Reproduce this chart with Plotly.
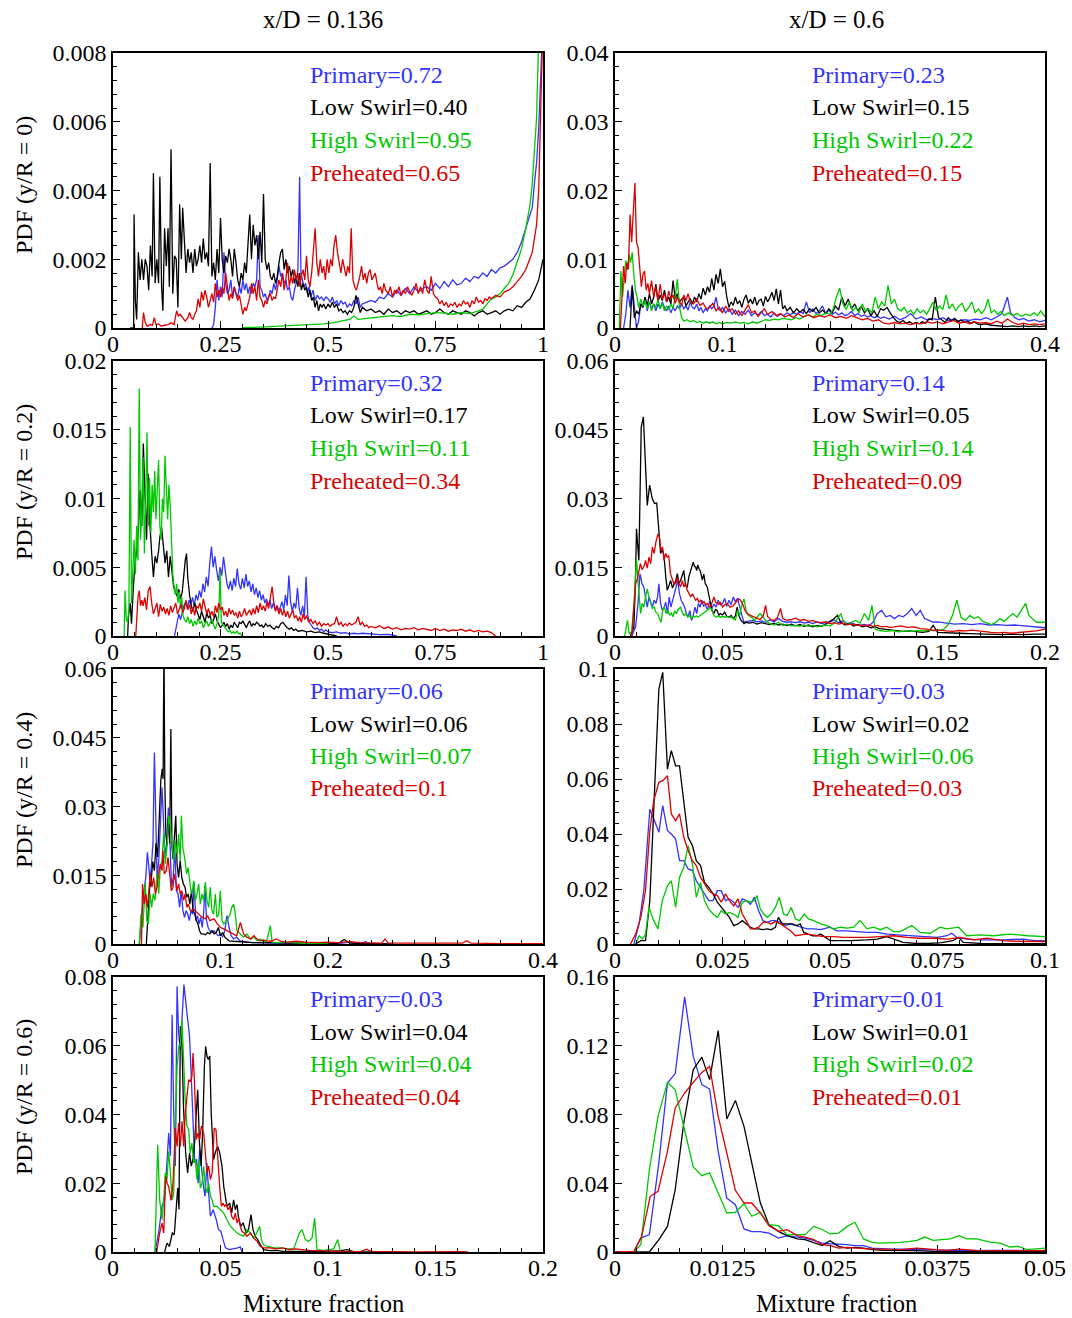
import plotly.graph_objects as go

W, H = 1072, 1318
FONT = "Liberation Serif, Times New Roman, serif"

SERIES = ["Primary", "Low Swirl", "High Swirl", "Preheated"]
COLORS = ["#3333ff", "#000000", "#00c800", "#dc0000"]

# ---------------- Panel A: x/D=0.136, y/R=0  (y in units of 1e-3) ----------------
UNIT_A = 1e-3
a_primary = [(0.230,0),(0.234,0.1),(0.238,0.6),(0.242,1.4),(0.246,0.8),(0.250,1.2),(0.254,0.9),(0.258,2.2),(0.262,1.3),(0.266,1.0),(0.270,1.1),(0.274,1.4),(0.278,0.9),(0.282,1.2),(0.286,1.0),(0.290,0.9),(0.294,1.2),(0.298,1.0),(0.302,1.4),(0.306,1.1),(0.310,1.3),(0.314,1.0),(0.318,1.2),(0.322,1.0),(0.326,1.3),(0.330,1.2),(0.334,1.4),(0.338,2.7),(0.342,1.2),(0.346,1.1),(0.350,0.9),(0.354,1.0),(0.358,0.8),(0.362,0.9),(0.366,1.1),(0.370,1.0),(0.374,1.3),(0.378,1.1),(0.382,1.4),(0.386,1.8),(0.390,1.5),(0.394,1.6),(0.398,1.3),(0.402,1.4),(0.406,1.1),(0.410,1.2),(0.414,0.9),(0.418,0.8),(0.422,1.1),(0.426,1.3),(0.430,1.7),(0.434,4.4),(0.437,1.6),(0.440,1.4),(0.444,1.2),(0.448,1.3),(0.452,1.0),(0.456,1.2),(0.460,0.9),(0.465,1.1),(0.470,0.8),(0.475,0.95),(0.480,0.85),(0.485,0.9),(0.490,0.8),(0.495,0.9),(0.500,0.85),(0.505,0.75),(0.510,0.9),(0.515,0.7),(0.520,0.8),(0.525,0.65),(0.530,0.8),(0.535,0.7),(0.540,0.75),(0.545,0.6),(0.550,0.7),(0.555,0.65),(0.560,0.8),(0.565,0.7),(0.570,0.9),(0.575,0.6),(0.580,0.7),(0.590,0.75),(0.600,0.8),(0.610,0.75),(0.620,0.9),(0.630,0.85),(0.640,1.0),(0.650,0.9),(0.660,1.1),(0.670,0.95),(0.680,1.15),(0.690,1.0),(0.700,1.2),(0.710,1.05),(0.720,1.15),(0.730,1.2),(0.740,1.1),(0.750,1.3),(0.760,1.15),(0.770,1.35),(0.780,1.2),(0.790,1.4),(0.800,1.25),(0.810,1.3),(0.820,1.45),(0.830,1.35),(0.840,1.5),(0.850,1.45),(0.860,1.6),(0.870,1.5),(0.880,1.7),(0.890,1.6),(0.900,1.75),(0.910,1.8),(0.920,1.9),(0.930,2.0),(0.940,2.2),(0.950,2.5),(0.960,2.9),(0.970,3.3),(0.975,3.5),(0.980,4.2),(0.985,4.8),(0.990,5.8),(0.995,7.5),(1.0,9.0)]
a_lowswirl = [(0.040,0),(0.048,0),(0.049,3.3),(0.052,0.8),(0.055,0.25),(0.059,2.2),(0.063,1.4),(0.067,2.0),(0.071,1.4),(0.075,2.0),(0.079,1.8),(0.083,1.1),(0.087,2.4),(0.091,1.5),(0.094,4.5),(0.098,1.3),(0.102,2.0),(0.106,1.3),(0.109,4.4),(0.113,1.2),(0.116,0.5),(0.120,2.9),(0.124,1.8),(0.128,2.9),(0.131,1.2),(0.135,5.2),(0.139,1.0),(0.143,2.1),(0.147,2.0),(0.151,0.6),(0.155,3.6),(0.159,2.0),(0.162,3.5),(0.166,2.3),(0.170,1.6),(0.174,2.3),(0.178,1.9),(0.182,2.2),(0.186,1.6),(0.190,2.3),(0.194,1.8),(0.198,2.0),(0.202,2.4),(0.206,1.9),(0.210,2.6),(0.214,2.0),(0.218,2.2),(0.222,1.8),(0.226,4.8),(0.230,1.5),(0.234,1.9),(0.238,1.4),(0.242,2.3),(0.246,1.6),(0.250,3.2),(0.254,2.0),(0.258,1.6),(0.262,2.1),(0.266,1.9),(0.270,2.3),(0.274,2.0),(0.278,1.5),(0.282,2.3),(0.286,1.9),(0.290,1.4),(0.294,1.2),(0.298,1.6),(0.302,1.4),(0.306,1.9),(0.310,1.6),(0.314,2.4),(0.318,3.3),(0.322,2.0),(0.326,3.0),(0.330,2.4),(0.334,2.7),(0.338,2.0),(0.342,2.8),(0.346,1.9),(0.350,3.9),(0.354,2.0),(0.358,1.7),(0.362,1.9),(0.366,1.5),(0.370,1.4),(0.374,1.6),(0.378,1.3),(0.382,1.5),(0.386,1.9),(0.390,2.2),(0.394,2.3),(0.398,1.7),(0.402,2.0),(0.406,1.6),(0.410,1.8),(0.414,1.5),(0.418,1.7),(0.422,1.3),(0.426,1.5),(0.430,1.2),(0.434,1.6),(0.438,1.1),(0.442,1.3),(0.446,1.1),(0.450,1.2),(0.454,0.9),(0.458,1.1),(0.462,0.8),(0.466,0.9),(0.470,0.6),(0.474,0.8),(0.478,0.5),(0.482,0.7),(0.486,0.6),(0.490,0.7),(0.495,0.55),(0.500,0.7),(0.505,0.6),(0.510,0.75),(0.515,0.6),(0.520,0.7),(0.525,0.5),(0.530,0.55),(0.535,0.45),(0.540,0.5),(0.545,0.4),(0.550,0.5),(0.555,0.45),(0.560,0.6),(0.565,0.95),(0.570,0.7),(0.575,0.45),(0.580,0.6),(0.590,0.5),(0.600,0.55),(0.610,0.45),(0.620,0.5),(0.630,0.4),(0.640,0.55),(0.650,0.45),(0.660,0.5),(0.670,0.4),(0.680,0.5),(0.690,0.45),(0.700,0.5),(0.710,0.4),(0.720,0.45),(0.730,0.5),(0.740,0.4),(0.750,0.45),(0.760,0.55),(0.770,0.45),(0.780,0.4),(0.790,0.5),(0.800,0.45),(0.810,0.4),(0.820,0.5),(0.830,0.45),(0.840,0.35),(0.850,0.45),(0.860,0.5),(0.870,0.4),(0.880,0.45),(0.890,0.5),(0.900,0.4),(0.910,0.5),(0.920,0.55),(0.930,0.5),(0.940,0.65),(0.950,0.6),(0.960,0.75),(0.970,0.85),(0.980,1.1),(0.990,1.4),(0.995,1.7),(1.0,2.0)]
a_highswirl = [(0.30,0),(0.31,0.02),(0.33,0.02),(0.35,0.03),(0.37,0.04),(0.39,0.05),(0.41,0.06),(0.43,0.08),(0.45,0.1),(0.47,0.1),(0.49,0.12),(0.51,0.15),(0.53,0.2),(0.55,0.25),(0.56,0.35),(0.57,0.25),(0.59,0.28),(0.61,0.3),(0.63,0.32),(0.65,0.36),(0.67,0.33),(0.69,0.4),(0.71,0.38),(0.73,0.42),(0.75,0.45),(0.77,0.43),(0.79,0.4),(0.81,0.45),(0.83,0.42),(0.85,0.5),(0.86,0.55),(0.87,0.7),(0.88,0.85),(0.89,0.9),(0.90,1.0),(0.91,1.15),(0.92,1.3),(0.93,1.55),(0.94,1.9),(0.95,2.3),(0.96,2.9),(0.97,3.6),(0.975,4.2),(0.98,5.2),(0.985,6.1),(0.99,8.5),(1.0,9.5)]
a_preheated = [(0.068,0),(0.071,0.45),(0.075,0.15),(0.080,0.05),(0.086,0.1),(0.092,0.08),(0.096,0.3),(0.100,0.1),(0.106,0.12),(0.112,0.05),(0.120,0.08),(0.128,0.1),(0.136,0.15),(0.142,0.1),(0.148,0.5),(0.152,0.35),(0.156,0.4),(0.162,0.3),(0.168,0.2),(0.174,0.3),(0.178,0.45),(0.182,0.3),(0.186,0.25),(0.190,0.4),(0.194,0.5),(0.198,0.85),(0.202,0.6),(0.206,1.05),(0.210,0.8),(0.214,1.1),(0.218,0.9),(0.222,0.6),(0.226,0.8),(0.230,1.0),(0.234,0.75),(0.238,1.3),(0.242,0.9),(0.246,1.1),(0.250,0.9),(0.254,1.2),(0.258,1.0),(0.262,1.6),(0.266,1.2),(0.270,0.8),(0.274,1.0),(0.278,0.85),(0.282,1.2),(0.286,1.0),(0.290,0.8),(0.294,0.95),(0.298,0.6),(0.302,0.4),(0.306,0.6),(0.310,0.5),(0.314,0.7),(0.318,0.9),(0.322,1.3),(0.326,1.0),(0.330,1.2),(0.334,0.8),(0.338,1.4),(0.342,0.9),(0.346,0.8),(0.350,0.6),(0.354,0.8),(0.358,0.7),(0.362,0.9),(0.366,1.0),(0.370,0.8),(0.374,0.9),(0.378,0.85),(0.382,1.1),(0.386,1.4),(0.390,1.2),(0.394,1.6),(0.398,1.1),(0.402,1.4),(0.406,1.9),(0.410,1.2),(0.414,1.5),(0.418,1.3),(0.422,1.7),(0.426,1.4),(0.430,1.6),(0.434,1.2),(0.438,1.5),(0.442,1.7),(0.446,1.4),(0.450,2.1),(0.454,1.4),(0.458,1.2),(0.462,1.6),(0.466,2.3),(0.470,2.9),(0.474,1.9),(0.478,1.5),(0.482,2.0),(0.486,1.6),(0.490,1.8),(0.494,1.4),(0.498,2.0),(0.502,1.6),(0.506,2.0),(0.510,1.8),(0.514,2.4),(0.518,2.7),(0.522,2.2),(0.526,1.9),(0.530,1.6),(0.534,2.0),(0.538,1.7),(0.542,1.5),(0.546,1.8),(0.550,1.6),(0.554,2.9),(0.558,1.4),(0.562,1.2),(0.566,1.1),(0.570,1.3),(0.574,1.5),(0.578,1.8),(0.582,1.4),(0.586,1.6),(0.590,1.3),(0.594,1.6),(0.598,1.7),(0.602,1.4),(0.606,1.5),(0.610,1.6),(0.614,1.3),(0.618,1.1),(0.622,1.2),(0.626,1.0),(0.630,1.3),(0.634,1.1),(0.640,1.0),(0.645,1.2),(0.650,0.9),(0.655,1.1),(0.660,1.0),(0.665,1.2),(0.670,0.95),(0.675,1.1),(0.680,1.0),(0.685,1.2),(0.690,1.05),(0.695,0.95),(0.700,1.1),(0.705,1.3),(0.710,1.0),(0.715,1.2),(0.720,1.0),(0.725,1.4),(0.730,1.1),(0.735,1.0),(0.740,1.5),(0.745,1.0),(0.750,0.9),(0.755,0.85),(0.760,0.7),(0.765,0.8),(0.770,0.65),(0.775,0.75),(0.780,0.6),(0.785,0.7),(0.790,0.65),(0.795,0.75),(0.800,0.6),(0.805,0.7),(0.810,0.65),(0.815,0.8),(0.820,0.7),(0.825,0.75),(0.830,0.6),(0.835,0.8),(0.840,0.7),(0.845,0.9),(0.850,0.75),(0.855,0.8),(0.860,0.7),(0.865,0.85),(0.870,0.8),(0.875,0.9),(0.880,0.85),(0.890,0.95),(0.900,0.9),(0.910,1.05),(0.920,1.1),(0.930,1.2),(0.940,1.35),(0.950,1.5),(0.960,1.7),(0.970,2.0),(0.975,2.2),(0.980,2.6),(0.985,3.0),(0.990,4.0),(0.995,6.0),(1.0,9.0)]
a_labels = ["0.72", "0.40", "0.95", "0.65"]

# ---------------- Panel B: x/D=0.6, y/R=0 ----------------
b_primary = [(0.008,0),(0.010,0.002),(0.012,0.0055),(0.014,0.003),(0.016,0.0063),(0.018,0.0025),(0.020,0.0),(0.022,0.001),(0.024,0.0035),(0.026,0.003),(0.028,0.0045),(0.030,0.0025),(0.032,0.0038),(0.034,0.0028),(0.036,0.0035),(0.038,0.0025),(0.040,0.0035),(0.042,0.0028),(0.044,0.0038),(0.046,0.003),(0.048,0.0025),(0.050,0.0032),(0.052,0.0022),(0.054,0.003),(0.056,0.0025),(0.058,0.0032),(0.060,0.0028),(0.062,0.0035),(0.064,0.0028),(0.066,0.0032),(0.068,0.0026),(0.070,0.0038),(0.072,0.003),(0.074,0.0028),(0.076,0.0035),(0.078,0.0025),(0.080,0.003),(0.082,0.0022),(0.084,0.0028),(0.086,0.0025),(0.088,0.0032),(0.090,0.0028),(0.092,0.0032),(0.094,0.0045),(0.096,0.0028),(0.098,0.0025),(0.100,0.003),(0.103,0.0022),(0.106,0.0028),(0.109,0.002),(0.112,0.0026),(0.115,0.0018),(0.118,0.0024),(0.121,0.002),(0.124,0.0026),(0.127,0.0018),(0.130,0.0022),(0.133,0.0019),(0.136,0.0024),(0.139,0.0018),(0.142,0.002),(0.145,0.0016),(0.148,0.0022),(0.151,0.0017),(0.154,0.002),(0.157,0.0018),(0.160,0.0022),(0.163,0.0019),(0.166,0.0023),(0.169,0.002),(0.172,0.0024),(0.175,0.0021),(0.178,0.0038),(0.181,0.0022),(0.184,0.0028),(0.187,0.0021),(0.190,0.0025),(0.193,0.0032),(0.196,0.0021),(0.199,0.0026),(0.202,0.002),(0.205,0.0023),(0.208,0.0019),(0.211,0.0022),(0.214,0.0018),(0.217,0.002),(0.220,0.0024),(0.223,0.0018),(0.226,0.0021),(0.229,0.0017),(0.232,0.0019),(0.235,0.0016),(0.238,0.0018),(0.241,0.0015),(0.244,0.0017),(0.247,0.0014),(0.250,0.0016),(0.255,0.0013),(0.260,0.0017),(0.265,0.0012),(0.270,0.0015),(0.275,0.0021),(0.280,0.0013),(0.285,0.0016),(0.290,0.0012),(0.295,0.0014),(0.300,0.0012),(0.305,0.0015),(0.310,0.0011),(0.315,0.0013),(0.320,0.001),(0.325,0.0012),(0.330,0.0011),(0.335,0.0013),(0.340,0.0012),(0.345,0.0015),(0.350,0.0012),(0.355,0.0016),(0.360,0.0021),(0.365,0.0045),(0.368,0.0022),(0.372,0.0015),(0.376,0.0012),(0.380,0.0014),(0.385,0.001),(0.390,0.0012),(0.395,0.0009),(0.400,0.0011)]
b_lowswirl = [(0.014,0),(0.016,0.006),(0.018,0.0015),(0.020,0.0025),(0.022,0.002),(0.024,0.0035),(0.026,0.003),(0.028,0.0045),(0.030,0.0032),(0.032,0.005),(0.034,0.0035),(0.036,0.0045),(0.038,0.0064),(0.040,0.0038),(0.042,0.0048),(0.044,0.004),(0.046,0.0055),(0.048,0.0038),(0.050,0.0045),(0.052,0.0035),(0.054,0.0069),(0.056,0.0042),(0.058,0.005),(0.060,0.0038),(0.062,0.0042),(0.064,0.0045),(0.066,0.0032),(0.068,0.0038),(0.070,0.0043),(0.072,0.0035),(0.074,0.0045),(0.076,0.0038),(0.078,0.005),(0.080,0.0042),(0.082,0.0058),(0.084,0.0048),(0.086,0.006),(0.088,0.0052),(0.090,0.0072),(0.092,0.0055),(0.094,0.0078),(0.096,0.0065),(0.098,0.0086),(0.100,0.006),(0.102,0.0068),(0.104,0.0045),(0.106,0.003),(0.108,0.0038),(0.110,0.0033),(0.112,0.0045),(0.114,0.0035),(0.116,0.004),(0.118,0.003),(0.120,0.0042),(0.122,0.0048),(0.124,0.0036),(0.126,0.0042),(0.128,0.0035),(0.130,0.0045),(0.132,0.0033),(0.134,0.004),(0.136,0.0042),(0.138,0.0032),(0.140,0.0046),(0.142,0.0038),(0.144,0.0044),(0.146,0.0052),(0.148,0.004),(0.150,0.0057),(0.152,0.0035),(0.154,0.0055),(0.156,0.0028),(0.158,0.0032),(0.160,0.0025),(0.163,0.003),(0.166,0.0022),(0.169,0.0028),(0.172,0.0023),(0.175,0.0027),(0.178,0.0021),(0.181,0.0028),(0.184,0.0024),(0.187,0.003),(0.190,0.0022),(0.193,0.0026),(0.196,0.0021),(0.199,0.0028),(0.202,0.0022),(0.205,0.0032),(0.208,0.0026),(0.211,0.0045),(0.214,0.0032),(0.217,0.0042),(0.220,0.0028),(0.223,0.0035),(0.226,0.0025),(0.229,0.0032),(0.232,0.0022),(0.235,0.0028),(0.238,0.0018),(0.241,0.0025),(0.244,0.0017),(0.247,0.0028),(0.250,0.0026),(0.253,0.003),(0.256,0.0022),(0.259,0.0015),(0.262,0.001),(0.265,0.0008),(0.268,0.0011),(0.271,0.0007),(0.274,0.0009),(0.277,0.0006),(0.280,0.0008),(0.283,0.0006),(0.286,0.0009),(0.289,0.0007),(0.292,0.0013),(0.295,0.0012),(0.298,0.0045),(0.301,0.0015),(0.304,0.0012),(0.307,0.0008),(0.310,0.0015),(0.313,0.001),(0.316,0.0014),(0.319,0.0009),(0.322,0.0012),(0.325,0.0008),(0.328,0.001),(0.331,0.0007),(0.334,0.0009),(0.337,0.0006),(0.340,0.0005),(0.345,0.0006),(0.350,0.0004),(0.355,0.0003),(0.360,0.0003),(0.365,0.0002),(0.370,0.0003),(0.375,0.0002),(0.380,0.0003),(0.385,0.0002),(0.390,0.0003),(0.395,0.0002),(0.400,0.0003)]
b_highswirl = [(0.004,0),(0.0055,0.0083),(0.007,0.0045),(0.0085,0.0075),(0.010,0.0098),(0.0115,0.0085),(0.013,0.0108),(0.0145,0.0095),(0.016,0.011),(0.0175,0.0078),(0.019,0.0055),(0.0205,0.0045),(0.022,0.003),(0.024,0.0042),(0.026,0.0032),(0.028,0.004),(0.030,0.0028),(0.032,0.0038),(0.034,0.0025),(0.036,0.0035),(0.038,0.003),(0.040,0.0042),(0.042,0.0028),(0.044,0.0036),(0.046,0.0025),(0.048,0.0032),(0.050,0.0027),(0.052,0.0035),(0.054,0.0028),(0.056,0.0045),(0.058,0.0071),(0.060,0.003),(0.062,0.0015),(0.064,0.001),(0.067,0.0012),(0.070,0.0009),(0.073,0.0011),(0.076,0.0008),(0.079,0.001),(0.082,0.0007),(0.085,0.0009),(0.088,0.0007),(0.091,0.0009),(0.094,0.0006),(0.097,0.0008),(0.100,0.0006),(0.104,0.0008),(0.108,0.0007),(0.112,0.0009),(0.116,0.0007),(0.120,0.0008),(0.124,0.0006),(0.128,0.0009),(0.132,0.0007),(0.136,0.001),(0.140,0.0012),(0.144,0.0011),(0.148,0.0013),(0.152,0.0012),(0.156,0.0014),(0.160,0.0013),(0.164,0.0012),(0.168,0.0015),(0.172,0.0013),(0.176,0.0017),(0.180,0.0019),(0.184,0.0016),(0.188,0.002),(0.192,0.0018),(0.196,0.0022),(0.200,0.002),(0.203,0.0028),(0.206,0.0045),(0.209,0.0058),(0.212,0.0035),(0.215,0.0027),(0.218,0.0038),(0.221,0.0025),(0.224,0.003),(0.227,0.0022),(0.230,0.0035),(0.233,0.0025),(0.236,0.0028),(0.239,0.0022),(0.242,0.0045),(0.245,0.0028),(0.248,0.0038),(0.251,0.0032),(0.254,0.0062),(0.257,0.0035),(0.260,0.0042),(0.263,0.0028),(0.266,0.0025),(0.269,0.003),(0.272,0.0022),(0.275,0.0026),(0.278,0.002),(0.281,0.0028),(0.284,0.0022),(0.287,0.0026),(0.290,0.002),(0.293,0.0028),(0.296,0.0038),(0.299,0.0025),(0.302,0.0032),(0.305,0.0027),(0.308,0.0048),(0.311,0.0028),(0.314,0.0035),(0.317,0.0025),(0.320,0.0032),(0.323,0.0036),(0.326,0.0024),(0.329,0.003),(0.332,0.0038),(0.335,0.0022),(0.338,0.0028),(0.341,0.0021),(0.344,0.0027),(0.347,0.0042),(0.350,0.0022),(0.353,0.0026),(0.356,0.002),(0.359,0.0024),(0.362,0.0018),(0.366,0.0022),(0.370,0.0018),(0.374,0.0021),(0.378,0.0017),(0.382,0.002),(0.386,0.0018),(0.390,0.0022),(0.393,0.0018),(0.396,0.0025),(0.400,0.0016)]
b_preheated = [(0.005,0),(0.0065,0.004),(0.008,0.009),(0.0095,0.0065),(0.011,0.0095),(0.0125,0.0085),(0.014,0.0165),(0.0155,0.0125),(0.017,0.0168),(0.0185,0.0211),(0.020,0.0125),(0.0215,0.0117),(0.023,0.0088),(0.0245,0.006),(0.026,0.0078),(0.0275,0.0083),(0.029,0.0055),(0.0305,0.0065),(0.032,0.005),(0.034,0.0069),(0.036,0.0045),(0.038,0.006),(0.040,0.004),(0.042,0.0064),(0.044,0.0042),(0.046,0.005),(0.048,0.0038),(0.050,0.0054),(0.052,0.0042),(0.054,0.0048),(0.056,0.0036),(0.058,0.0045),(0.060,0.0038),(0.062,0.0033),(0.064,0.0048),(0.066,0.004),(0.068,0.005),(0.070,0.0038),(0.073,0.0035),(0.076,0.0042),(0.079,0.0033),(0.082,0.0036),(0.085,0.0028),(0.088,0.003),(0.091,0.0036),(0.094,0.0025),(0.097,0.003),(0.100,0.0022),(0.103,0.0032),(0.106,0.0024),(0.109,0.0028),(0.112,0.002),(0.115,0.0025),(0.118,0.0018),(0.121,0.0026),(0.124,0.0034),(0.127,0.0022),(0.130,0.0025),(0.133,0.0017),(0.136,0.0022),(0.139,0.0028),(0.142,0.002),(0.146,0.0024),(0.150,0.0018),(0.154,0.0021),(0.158,0.0016),(0.162,0.0019),(0.166,0.0015),(0.170,0.0021),(0.175,0.0016),(0.180,0.0019),(0.185,0.0015),(0.190,0.0018),(0.195,0.0016),(0.200,0.0019),(0.205,0.0015),(0.210,0.0017),(0.215,0.0014),(0.220,0.0018),(0.225,0.0015),(0.230,0.0012),(0.235,0.0014),(0.240,0.001),(0.245,0.0012),(0.250,0.0007),(0.255,0.0006),(0.260,0.0008),(0.265,0.0006),(0.270,0.0007),(0.275,0.0005),(0.280,0.0007),(0.285,0.0006),(0.290,0.0009),(0.295,0.0007),(0.300,0.0009),(0.305,0.0006),(0.310,0.0008),(0.315,0.0011),(0.320,0.0007),(0.325,0.0009),(0.330,0.0006),(0.335,0.0009),(0.340,0.0007),(0.345,0.0008),(0.350,0.0006),(0.355,0.001),(0.360,0.0007),(0.365,0.0013),(0.370,0.0008),(0.375,0.0005),(0.380,0.0007),(0.385,0.0005),(0.390,0.0006),(0.395,0.0005),(0.400,0.0006)]
b_labels = ["0.23", "0.15", "0.22", "0.15"]

# ---------------- Panel C: x/D=0.136, y/R=0.2  (y in units of 1e-3) ----------------
UNIT_C = 1e-3
c_primary = [(0.143,0),(0.146,0.5),(0.150,1.0),(0.153,1.6),(0.157,1.2),(0.161,1.8),(0.165,2.2),(0.169,2.5),(0.173,2.0),(0.177,2.6),(0.181,2.3),(0.185,2.8),(0.189,2.2),(0.193,3.0),(0.197,2.6),(0.201,3.3),(0.205,2.8),(0.209,3.8),(0.213,3.2),(0.217,4.3),(0.221,3.6),(0.225,5.3),(0.229,6.5),(0.233,5.0),(0.237,5.8),(0.241,4.8),(0.245,4.0),(0.249,5.0),(0.253,4.4),(0.257,5.75),(0.261,4.8),(0.265,3.8),(0.269,3.4),(0.273,4.0),(0.277,3.3),(0.281,4.2),(0.285,3.6),(0.289,4.9),(0.293,3.8),(0.297,3.4),(0.301,4.2),(0.305,3.5),(0.309,4.5),(0.313,3.6),(0.317,4.0),(0.321,3.2),(0.325,3.8),(0.329,3.0),(0.333,3.5),(0.337,2.8),(0.341,3.3),(0.345,2.6),(0.349,3.0),(0.353,2.4),(0.357,2.7),(0.361,2.2),(0.365,2.6),(0.369,2.0),(0.373,2.4),(0.377,1.9),(0.381,2.2),(0.385,1.8),(0.389,2.1),(0.393,2.5),(0.397,1.9),(0.401,3.0),(0.405,2.2),(0.409,4.4),(0.413,2.5),(0.417,1.8),(0.421,2.4),(0.425,2.0),(0.429,3.5),(0.433,2.0),(0.437,1.5),(0.441,2.2),(0.445,1.4),(0.449,4.3),(0.453,1.5),(0.457,1.0),(0.461,0.8),(0.465,0.6),(0.470,0.5),(0.475,0.6),(0.480,0.4),(0.485,0.5),(0.490,0.3),(0.495,0.45),(0.500,0.3),(0.510,0.25),(0.520,0.3),(0.530,0.2),(0.540,0.25),(0.550,0.15),(0.560,0.2),(0.570,0.15),(0.580,0.2),(0.600,0.15),(0.620,0.1),(0.640,0.12),(0.660,0.0)]
c_lowswirl = [(0.034,0),(0.036,1.4),(0.040,2.4),(0.043,0.9),(0.047,3.3),(0.051,5.3),(0.055,6.2),(0.059,7.7),(0.063,10.6),(0.067,8.0),(0.0705,14.0),(0.074,11.1),(0.078,7.0),(0.082,11.8),(0.086,8.0),(0.090,6.0),(0.094,4.3),(0.098,5.8),(0.102,5.3),(0.106,6.2),(0.109,7.2),(0.113,7.9),(0.117,6.7),(0.121,5.3),(0.125,6.2),(0.129,4.3),(0.133,5.8),(0.137,4.8),(0.141,3.6),(0.145,3.2),(0.149,2.9),(0.153,3.4),(0.157,2.7),(0.161,3.2),(0.165,4.6),(0.168,5.5),(0.171,6.0),(0.174,4.2),(0.178,3.0),(0.182,2.2),(0.186,1.8),(0.190,2.4),(0.194,1.9),(0.198,1.6),(0.202,1.2),(0.206,1.8),(0.210,1.4),(0.214,1.0),(0.218,1.7),(0.222,1.3),(0.226,1.5),(0.230,0.9),(0.234,1.2),(0.238,1.6),(0.242,1.1),(0.246,0.8),(0.250,0.6),(0.254,0.8),(0.258,1.0),(0.262,0.7),(0.266,0.9),(0.270,0.5),(0.274,0.8),(0.278,0.6),(0.282,1.0),(0.286,0.8),(0.290,0.6),(0.294,1.0),(0.298,0.9),(0.302,1.1),(0.306,0.8),(0.310,0.6),(0.314,0.9),(0.318,1.1),(0.322,0.7),(0.326,0.9),(0.330,0.8),(0.334,1.0),(0.338,0.9),(0.342,0.7),(0.346,0.8),(0.350,0.6),(0.355,0.9),(0.360,0.7),(0.365,0.8),(0.370,0.6),(0.375,0.5),(0.380,0.7),(0.385,0.6),(0.390,0.9),(0.395,1.0),(0.400,0.8),(0.405,0.6),(0.410,0.5),(0.415,0.6),(0.420,0.4),(0.425,0.5),(0.430,0.35),(0.440,0.4),(0.450,0.3),(0.460,0.35),(0.470,0.25),(0.480,0.3),(0.490,0.2),(0.500,0.15),(0.510,0.1),(0.520,0.0)]
c_highswirl = [(0.026,0),(0.028,3.3),(0.031,1.2),(0.034,1.0),(0.037,2.0),(0.040,15.2),(0.043,2.4),(0.046,5.0),(0.049,7.0),(0.052,4.5),(0.055,8.0),(0.058,5.5),(0.061,18.0),(0.064,7.0),(0.067,9.0),(0.070,13.0),(0.073,6.0),(0.076,9.5),(0.079,14.8),(0.082,8.0),(0.085,11.5),(0.088,7.5),(0.091,11.0),(0.094,9.0),(0.097,12.0),(0.100,8.5),(0.103,10.6),(0.106,12.8),(0.109,8.0),(0.112,7.0),(0.115,10.0),(0.118,9.0),(0.121,13.1),(0.124,10.5),(0.127,8.5),(0.130,11.0),(0.133,9.5),(0.136,7.0),(0.139,4.5),(0.142,3.6),(0.145,3.0),(0.148,3.8),(0.151,2.4),(0.154,3.2),(0.157,2.0),(0.160,2.8),(0.163,1.5),(0.166,1.2),(0.170,1.0),(0.174,1.4),(0.178,0.9),(0.182,1.2),(0.186,0.7),(0.190,1.1),(0.194,0.8),(0.198,1.3),(0.202,0.9),(0.206,1.1),(0.210,0.6),(0.214,0.9),(0.218,1.1),(0.222,0.7),(0.226,1.0),(0.230,1.2),(0.234,0.8),(0.238,0.5),(0.242,0.9),(0.246,1.6),(0.249,4.7),(0.252,1.0),(0.256,0.8),(0.260,0.6),(0.264,0.5),(0.268,0.3),(0.272,0.4),(0.276,0.2),(0.280,0.3),(0.284,0.2),(0.288,0.35),(0.292,0.15),(0.296,0.2),(0.300,0.0)]
c_preheated = [(0.053,0),(0.055,1.2),(0.058,2.8),(0.061,3.3),(0.064,2.2),(0.067,2.6),(0.070,2.2),(0.074,2.8),(0.078,1.9),(0.082,3.3),(0.086,3.6),(0.090,2.4),(0.094,1.6),(0.098,2.0),(0.102,2.4),(0.106,1.4),(0.110,2.3),(0.114,1.8),(0.118,2.1),(0.122,1.6),(0.126,2.0),(0.130,1.5),(0.134,2.2),(0.138,1.7),(0.142,2.0),(0.146,2.4),(0.150,1.6),(0.154,1.9),(0.158,2.3),(0.162,1.7),(0.166,2.0),(0.170,2.6),(0.174,1.9),(0.178,2.3),(0.182,1.6),(0.186,2.1),(0.190,1.5),(0.194,2.2),(0.198,2.0),(0.202,2.4),(0.206,1.8),(0.210,2.7),(0.214,2.2),(0.218,1.6),(0.222,2.0),(0.226,1.5),(0.230,1.8),(0.234,1.4),(0.238,2.2),(0.242,1.7),(0.246,2.4),(0.250,1.9),(0.254,2.1),(0.258,1.5),(0.262,1.8),(0.266,1.4),(0.270,2.0),(0.274,1.6),(0.278,1.9),(0.282,1.5),(0.286,1.7),(0.290,1.3),(0.294,1.8),(0.298,1.4),(0.302,1.6),(0.306,2.0),(0.310,1.5),(0.314,1.7),(0.318,1.9),(0.322,1.5),(0.326,2.0),(0.330,1.6),(0.334,2.2),(0.338,1.7),(0.342,2.4),(0.346,1.9),(0.350,2.2),(0.354,1.8),(0.358,2.5),(0.362,2.0),(0.366,3.0),(0.370,3.6),(0.374,2.4),(0.378,1.8),(0.382,2.2),(0.386,1.6),(0.390,2.0),(0.394,1.5),(0.398,1.9),(0.402,1.4),(0.406,1.8),(0.410,1.3),(0.414,1.6),(0.418,1.9),(0.422,1.3),(0.426,1.5),(0.430,1.1),(0.434,1.4),(0.438,1.0),(0.442,1.6),(0.446,1.2),(0.450,1.5),(0.455,1.0),(0.460,1.2),(0.465,0.9),(0.470,1.1),(0.475,0.8),(0.480,1.0),(0.485,0.7),(0.490,0.9),(0.495,0.8),(0.500,0.9),(0.505,0.7),(0.510,0.85),(0.515,0.9),(0.520,1.4),(0.525,0.8),(0.530,1.0),(0.535,0.7),(0.540,0.9),(0.545,0.75),(0.550,0.95),(0.555,0.8),(0.560,0.9),(0.565,1.0),(0.570,1.4),(0.575,0.8),(0.580,1.0),(0.585,0.7),(0.590,0.8),(0.595,0.6),(0.600,0.7),(0.610,0.6),(0.620,0.75),(0.630,0.55),(0.640,0.65),(0.650,0.5),(0.660,0.6),(0.670,0.45),(0.680,0.55),(0.690,0.5),(0.700,0.6),(0.710,0.45),(0.720,0.55),(0.730,0.5),(0.740,0.4),(0.750,0.55),(0.760,0.4),(0.770,0.5),(0.780,0.35),(0.790,0.45),(0.800,0.4),(0.810,0.5),(0.820,0.35),(0.830,0.45),(0.840,0.3),(0.850,0.4),(0.860,0.3),(0.870,0.35),(0.880,0.25),(0.890,0.0)]
c_labels = ["0.32", "0.17", "0.11", "0.34"]

# ---------------- Panel D: x/D=0.6, y/R=0.2 ----------------
d_primary = [(0.0078,0),(0.0096,0.002),(0.0107,0.0071),(0.0116,0.0136),(0.0126,0.0114),(0.0134,0.0107),(0.0142,0.0085),(0.0150,0.0063),(0.0158,0.0085),(0.0166,0.0071),(0.0174,0.0063),(0.0182,0.0078),(0.0190,0.0071),(0.0198,0.0085),(0.0204,0.0114),(0.0212,0.0071),(0.0220,0.0056),(0.0228,0.0062),(0.0236,0.0074),(0.0244,0.0049),(0.0252,0.0085),(0.0260,0.0063),(0.0268,0.0078),(0.0276,0.0092),(0.0284,0.0107),(0.0292,0.0121),(0.0300,0.0092),(0.0308,0.0078),(0.0316,0.0071),(0.0324,0.0063),(0.0332,0.0049),(0.0340,0.0041),(0.0348,0.0056),(0.0356,0.0034),(0.0364,0.0045),(0.0372,0.0063),(0.0380,0.0049),(0.0388,0.0071),(0.0396,0.0063),(0.0404,0.0078),(0.0412,0.0065),(0.0420,0.0068),(0.0430,0.0058),(0.0440,0.0075),(0.0450,0.006),(0.0460,0.007),(0.0470,0.0063),(0.0480,0.0078),(0.0490,0.0068),(0.0500,0.0071),(0.0510,0.0082),(0.0520,0.0065),(0.0530,0.0078),(0.0540,0.0068),(0.0550,0.0085),(0.0560,0.0075),(0.0570,0.0082),(0.0580,0.006),(0.0590,0.0045),(0.0600,0.003),(0.0620,0.0032),(0.0640,0.0034),(0.0660,0.0031),(0.0680,0.0033),(0.0700,0.003),(0.0720,0.0035),(0.0740,0.0031),(0.0760,0.0038),(0.0780,0.0032),(0.0800,0.003),(0.0820,0.0031),(0.0840,0.0029),(0.0860,0.0031),(0.0880,0.0028),(0.0900,0.003),(0.0920,0.0027),(0.0940,0.0031),(0.0960,0.0027),(0.0980,0.0029),(0.1000,0.0031),(0.1020,0.0035),(0.1040,0.0029),(0.1060,0.0033),(0.1080,0.0027),(0.1100,0.0029),(0.1120,0.0025),(0.1140,0.0023),(0.1160,0.0025),(0.1180,0.0022),(0.1200,0.003),(0.1220,0.0049),(0.1240,0.0056),(0.1260,0.0042),(0.1280,0.0045),(0.1300,0.0038),(0.1320,0.0045),(0.1340,0.0042),(0.1360,0.0049),(0.1380,0.006),(0.1400,0.0045),(0.1420,0.0056),(0.1440,0.0038),(0.1460,0.0034),(0.1480,0.003),(0.1500,0.0031),(0.1540,0.0028),(0.1580,0.0026),(0.1620,0.0027),(0.1660,0.0025),(0.1700,0.0027),(0.1740,0.0024),(0.1780,0.0025),(0.1820,0.0023),(0.1860,0.0024),(0.1900,0.0022),(0.1940,0.0021),(0.2000,0.0018)]
d_lowswirl = [(0.0072,0),(0.0088,0.002),(0.0095,0.012),(0.0100,0.0234),(0.0111,0.0165),(0.0122,0.0456),(0.0132,0.0478),(0.0142,0.0376),(0.0150,0.0285),(0.0161,0.0329),(0.0173,0.030),(0.0184,0.0289),(0.0194,0.029),(0.0204,0.023),(0.0212,0.018),(0.0220,0.019),(0.0228,0.0175),(0.0236,0.013),(0.0243,0.010),(0.0251,0.011),(0.0259,0.0121),(0.0267,0.0105),(0.0274,0.0114),(0.0282,0.012),(0.0290,0.0136),(0.0297,0.0115),(0.0305,0.0121),(0.0313,0.0135),(0.0320,0.0143),(0.0328,0.011),(0.0336,0.0106),(0.0344,0.013),(0.0351,0.0143),(0.0358,0.015),(0.0364,0.0161),(0.0370,0.0152),(0.0375,0.0150),(0.0380,0.0143),(0.0385,0.0155),(0.0390,0.0148),(0.0398,0.014),(0.0406,0.0122),(0.0413,0.0135),(0.0420,0.0114),(0.0429,0.0107),(0.0436,0.009),(0.0444,0.007),(0.0452,0.0055),(0.0460,0.0049),(0.0468,0.0058),(0.0475,0.0056),(0.0483,0.0045),(0.0490,0.0049),(0.0500,0.0046),(0.0510,0.0052),(0.0520,0.0043),(0.0530,0.0041),(0.0540,0.0045),(0.0550,0.0038),(0.0560,0.0044),(0.0568,0.0063),(0.0576,0.0045),(0.0585,0.0035),(0.0600,0.0027),(0.0610,0.003),(0.0625,0.0028),(0.0640,0.003),(0.0660,0.0026),(0.0680,0.0029),(0.0700,0.0027),(0.0720,0.0025),(0.0740,0.0028),(0.0760,0.0024),(0.0780,0.0026),(0.0800,0.0023),(0.0820,0.0026),(0.0840,0.0022),(0.0860,0.0025),(0.0880,0.0021),(0.0900,0.0024),(0.0920,0.002),(0.0940,0.0023),(0.0960,0.0021),(0.0980,0.0026),(0.1000,0.0032),(0.1020,0.0038),(0.1035,0.0045),(0.1050,0.003),(0.1070,0.0024),(0.1090,0.0028),(0.1110,0.0022),(0.1130,0.0025),(0.1150,0.002),(0.1170,0.0022),(0.1190,0.0018),(0.1210,0.002),(0.1230,0.0016),(0.1250,0.0015),(0.1280,0.0012),(0.1310,0.0011),(0.1340,0.001),(0.1370,0.0011),(0.1400,0.0009),(0.1430,0.0008),(0.1460,0.001),(0.1480,0.0023),(0.1500,0.0008),(0.1530,0.0007),(0.1560,0.0006),(0.1600,0.0006),(0.1650,0.0005),(0.1700,0.0004),(0.1750,0.0004),(0.1800,0.0003),(0.1850,0.0004),(0.1900,0.0003),(0.1950,0.0004),(0.2000,0.0004)]
d_highswirl = [(0.0045,0),(0.0050,0.0015),(0.0058,0.0034),(0.0066,0.0005),(0.0078,0.001),(0.0088,0.007),(0.0096,0.0125),(0.0100,0.0169),(0.0108,0.0114),(0.0115,0.0075),(0.0119,0.0049),(0.0126,0.0071),(0.0134,0.0063),(0.0142,0.0085),(0.0150,0.0103),(0.0158,0.0085),(0.0166,0.0071),(0.0174,0.006),(0.0182,0.0063),(0.0190,0.0052),(0.0198,0.0049),(0.0206,0.0038),(0.0214,0.003),(0.0222,0.0056),(0.0230,0.0063),(0.0238,0.0049),(0.0246,0.0056),(0.0254,0.0045),(0.0262,0.005),(0.0270,0.0042),(0.0278,0.0055),(0.0286,0.0048),(0.0294,0.0058),(0.0305,0.0063),(0.0314,0.005),(0.0322,0.0045),(0.0330,0.0049),(0.0338,0.0041),(0.0346,0.0045),(0.0354,0.0038),(0.0362,0.0043),(0.0370,0.0041),(0.0378,0.0044),(0.0386,0.0041),(0.0394,0.0044),(0.0402,0.0045),(0.0410,0.0049),(0.0418,0.0052),(0.0426,0.0056),(0.0434,0.0058),(0.0444,0.0063),(0.0452,0.0052),(0.0460,0.0045),(0.0470,0.0041),(0.0480,0.0044),(0.0490,0.0041),(0.0500,0.0043),(0.0510,0.0041),(0.0520,0.0042),(0.0530,0.004),(0.0540,0.0041),(0.0550,0.0039),(0.0560,0.0034),(0.0570,0.0056),(0.0580,0.0045),(0.0590,0.0068),(0.0600,0.0081),(0.0610,0.0055),(0.0620,0.0045),(0.0635,0.0041),(0.0650,0.0034),(0.0660,0.0041),(0.0675,0.0049),(0.0690,0.0041),(0.0700,0.0034),(0.0720,0.0027),(0.0740,0.0024),(0.0760,0.003),(0.0780,0.0023),(0.0800,0.0026),(0.0820,0.0022),(0.0840,0.0023),(0.0860,0.0021),(0.0880,0.0024),(0.0900,0.0021),(0.0920,0.0023),(0.0940,0.002),(0.0960,0.0022),(0.0980,0.0024),(0.1000,0.0022),(0.1020,0.0028),(0.1040,0.0041),(0.1050,0.0049),(0.1060,0.0035),(0.1080,0.0024),(0.1100,0.003),(0.1120,0.0034),(0.1140,0.0028),(0.1160,0.0049),(0.1180,0.0034),(0.1195,0.0067),(0.1210,0.0015),(0.1230,0.0012),(0.1260,0.001),(0.1290,0.0012),(0.1320,0.0009),(0.1350,0.0011),(0.1380,0.001),(0.1410,0.0012),(0.1440,0.0011),(0.1470,0.0013),(0.1500,0.0011),(0.1530,0.0015),(0.1550,0.0025),(0.1570,0.0045),(0.1590,0.0078),(0.1610,0.004),(0.1630,0.0034),(0.1650,0.0045),(0.1670,0.0038),(0.1690,0.0042),(0.1710,0.0032),(0.1730,0.0028),(0.1750,0.0025),(0.1770,0.0029),(0.1790,0.0038),(0.1810,0.0032),(0.1830,0.0041),(0.1850,0.0049),(0.1870,0.0041),(0.1890,0.0055),(0.1910,0.0071),(0.1925,0.0045),(0.1940,0.0038),(0.1960,0.003),(0.1980,0.003),(0.2000,0.003)]
d_preheated = [(0.0078,0),(0.0088,0.006),(0.0096,0.0114),(0.0104,0.0125),(0.0111,0.0143),(0.0118,0.0158),(0.0126,0.0145),(0.0135,0.0152),(0.0142,0.0165),(0.0150,0.0148),(0.0158,0.0172),(0.0166,0.0158),(0.0174,0.0194),(0.0182,0.018),(0.0190,0.0205),(0.0200,0.0223),(0.0207,0.0215),(0.0214,0.0186),(0.0221,0.0194),(0.0228,0.0165),(0.0236,0.018),(0.0243,0.0172),(0.0250,0.0175),(0.0258,0.0136),(0.0266,0.0125),(0.0274,0.0114),(0.0282,0.0114),(0.0290,0.0128),(0.0298,0.0114),(0.0305,0.0107),(0.0313,0.0121),(0.0320,0.0107),(0.0328,0.0115),(0.0336,0.01),(0.0344,0.0093),(0.0352,0.0085),(0.0360,0.0092),(0.0367,0.0085),(0.0375,0.0078),(0.0383,0.0082),(0.0390,0.0074),(0.0398,0.0078),(0.0406,0.0071),(0.0414,0.0075),(0.0422,0.0068),(0.0430,0.0071),(0.0437,0.0065),(0.0444,0.0063),(0.0452,0.0075),(0.0460,0.0085),(0.0468,0.0074),(0.0475,0.0071),(0.0483,0.0069),(0.0490,0.0074),(0.0500,0.0063),(0.0510,0.0068),(0.0522,0.0071),(0.0535,0.0063),(0.0550,0.0066),(0.0560,0.0072),(0.0568,0.0078),(0.0576,0.0081),(0.0584,0.0078),(0.0595,0.0068),(0.0605,0.0055),(0.0615,0.0049),(0.0630,0.0045),(0.0646,0.0041),(0.0660,0.0039),(0.0675,0.0036),(0.0690,0.0045),(0.0700,0.0067),(0.0710,0.0042),(0.0725,0.0036),(0.0740,0.0034),(0.0755,0.004),(0.0770,0.006),(0.0780,0.0038),(0.0800,0.0034),(0.0820,0.0036),(0.0840,0.0039),(0.0860,0.0034),(0.0880,0.0036),(0.0900,0.0032),(0.0920,0.0034),(0.0940,0.003),(0.0960,0.0029),(0.0980,0.0031),(0.1000,0.0027),(0.1020,0.0029),(0.1040,0.0026),(0.1060,0.0028),(0.1080,0.0025),(0.1100,0.0026),(0.1120,0.0023),(0.1140,0.0024),(0.1160,0.0022),(0.1180,0.0024),(0.1200,0.0021),(0.1220,0.0023),(0.1240,0.002),(0.1260,0.0021),(0.1280,0.0019),(0.1300,0.002),(0.1330,0.0022),(0.1360,0.0019),(0.1390,0.002),(0.1420,0.0016),(0.1450,0.0015),(0.1480,0.0012),(0.1510,0.0013),(0.1540,0.0011),(0.1570,0.001),(0.1600,0.0012),(0.1630,0.0011),(0.1660,0.0013),(0.1690,0.0011),(0.1720,0.0009),(0.1750,0.0008),(0.1780,0.0007),(0.1810,0.0008),(0.1840,0.0006),(0.1870,0.0007),(0.1900,0.0008),(0.1930,0.001),(0.1960,0.0011),(0.2000,0.0015)]
d_labels = ["0.14", "0.05", "0.14", "0.09"]

# ---------------- Panel E: x/D=0.136, y/R=0.4 ----------------
e_primary = [(0.0245,0),(0.0265,0.0065),(0.0285,0.011),(0.0305,0.0145),(0.0320,0.02),(0.0332,0.017),(0.0345,0.0138),(0.0360,0.018),(0.0372,0.022),(0.0385,0.0418),(0.0398,0.0269),(0.0410,0.0145),(0.0425,0.018),(0.0440,0.025),(0.0456,0.0342),(0.0470,0.0269),(0.0484,0.0189),(0.0500,0.022),(0.0515,0.0298),(0.0530,0.0218),(0.0545,0.0124),(0.0560,0.0145),(0.0575,0.0211),(0.0590,0.0116),(0.0605,0.0109),(0.0620,0.008),(0.0635,0.0116),(0.0650,0.0073),(0.0665,0.0058),(0.0680,0.0073),(0.0695,0.0065),(0.0710,0.0051),(0.0725,0.0073),(0.0740,0.0065),(0.0755,0.0134),(0.0770,0.0051),(0.0785,0.0062),(0.0800,0.0044),(0.0815,0.0058),(0.0830,0.0036),(0.0845,0.0073),(0.0856,0.0127),(0.0870,0.0051),(0.0885,0.0036),(0.0900,0.0029),(0.0920,0.0025),(0.0940,0.0029),(0.0960,0.0022),(0.0980,0.0018),(0.1000,0.0022),(0.1020,0.0015),(0.1040,0.0029),(0.1060,0.0062),(0.1080,0.0036),(0.1100,0.0018),(0.1120,0.0011),(0.1150,0.0015),(0.1180,0.0007),(0.1210,0.0005),(0.1250,0.0004),(0.1300,0.0003),(0.1400,0.0002),(0.1500,0.0002),(0.1600,0.0002),(0.1700,0.0001),(0.1800,0.0002),(0.1900,0.0001),(0.2000,0.0002),(0.2100,0.0001),(0.2200,0.0004),(0.2250,0.0002),(0.2300,0.0001),(0.2350,0.0005),(0.2400,0.0)]
e_lowswirl = [(0.0310,0),(0.0325,0.005),(0.0340,0.012),(0.0355,0.0138),(0.0370,0.018),(0.0385,0.016),(0.0400,0.022),(0.0415,0.019),(0.0430,0.0276),(0.0445,0.0358),(0.0458,0.0382),(0.0466,0.036),(0.0474,0.066),(0.0482,0.035),(0.0492,0.024),(0.0502,0.0215),(0.0515,0.0276),(0.0527,0.022),(0.0538,0.0469),(0.0548,0.0215),(0.0558,0.0185),(0.0570,0.024),(0.0584,0.028),(0.0596,0.0175),(0.0610,0.0145),(0.0625,0.0182),(0.0640,0.0145),(0.0655,0.0131),(0.0670,0.0124),(0.0685,0.0102),(0.0700,0.0109),(0.0715,0.0087),(0.0730,0.0116),(0.0745,0.0073),(0.0760,0.0065),(0.0775,0.0051),(0.0790,0.0044),(0.0805,0.0029),(0.0820,0.0022),(0.0840,0.0022),(0.0860,0.002),(0.0880,0.0025),(0.0900,0.0022),(0.0920,0.0029),(0.0940,0.0022),(0.0960,0.0025),(0.0980,0.0036),(0.1000,0.0018),(0.1020,0.0025),(0.1040,0.0015),(0.1060,0.0011),(0.1080,0.0007),(0.1120,0.0006),(0.1160,0.0005),(0.1200,0.0004),(0.1300,0.0003),(0.1400,0.0003),(0.1600,0.0002),(0.1800,0.0002),(0.2000,0.0001),(0.2100,0.0002),(0.2150,0.001),(0.2200,0.0002),(0.2300,0.0001),(0.2500,0.0001),(0.2600,0.0)]
e_highswirl = [(0.0245,0),(0.0260,0.0065),(0.0278,0.0036),(0.0290,0.008),(0.0300,0.0135),(0.0315,0.0051),(0.0330,0.0044),(0.0345,0.011),(0.0360,0.008),(0.0375,0.011),(0.0390,0.0095),(0.0410,0.0153),(0.0425,0.011),(0.0440,0.0167),(0.0456,0.0182),(0.0471,0.024),(0.0487,0.0175),(0.0502,0.0211),(0.0518,0.028),(0.0533,0.0255),(0.0549,0.0211),(0.0565,0.0182),(0.0580,0.0225),(0.0596,0.0196),(0.0611,0.024),(0.0625,0.0182),(0.0636,0.028),(0.0650,0.0211),(0.0670,0.0182),(0.0685,0.0153),(0.0700,0.0167),(0.0720,0.0124),(0.0735,0.0109),(0.0750,0.0138),(0.0766,0.0095),(0.0781,0.0109),(0.0797,0.0131),(0.0812,0.0087),(0.0828,0.0109),(0.0843,0.0095),(0.0859,0.0135),(0.0874,0.0095),(0.0890,0.008),(0.0905,0.0124),(0.0920,0.0073),(0.0936,0.0065),(0.0952,0.0109),(0.0967,0.0058),(0.0983,0.0065),(0.0998,0.0116),(0.1014,0.0051),(0.1030,0.0044),(0.1060,0.0051),(0.1090,0.0065),(0.1105,0.008),(0.1122,0.0087),(0.1138,0.0065),(0.1153,0.0029),(0.1185,0.0022),(0.1215,0.0015),(0.1245,0.0022),(0.1278,0.0011),(0.1310,0.0015),(0.1340,0.0007),(0.1370,0.0011),(0.1400,0.0004),(0.1430,0.0007),(0.1464,0.004),(0.1480,0.0004),(0.1520,0.0003),(0.1600,0.0004),(0.1700,0.0002),(0.1800,0.0001),(0.1900,0.0001),(0.2000,0.0)]
e_preheated = [(0.0265,0),(0.0275,0.0131),(0.0290,0.0087),(0.0305,0.0109),(0.0320,0.008),(0.0335,0.0124),(0.0347,0.0153),(0.0362,0.0124),(0.0378,0.0145),(0.0394,0.0109),(0.0409,0.0124),(0.0425,0.0153),(0.0440,0.0175),(0.0456,0.016),(0.0465,0.0204),(0.0477,0.0153),(0.0496,0.016),(0.0512,0.0189),(0.0527,0.0153),(0.0543,0.0116),(0.0558,0.0124),(0.0570,0.0153),(0.0582,0.0138),(0.0595,0.0116),(0.0610,0.0131),(0.0626,0.0109),(0.0640,0.0116),(0.0657,0.0095),(0.0670,0.0109),(0.0688,0.008),(0.0700,0.0087),(0.0720,0.0073),(0.0750,0.0076),(0.0780,0.0069),(0.0800,0.0065),(0.0830,0.0058),(0.0860,0.0055),(0.0880,0.0062),(0.0900,0.0051),(0.0940,0.0055),(0.0970,0.0044),(0.1000,0.0036),(0.1030,0.0033),(0.1060,0.0029),(0.1090,0.0025),(0.1120,0.0022),(0.1150,0.0018),(0.1185,0.0047),(0.1215,0.0022),(0.1245,0.0015),(0.1280,0.0011),(0.1310,0.0018),(0.1340,0.0011),(0.1370,0.0007),(0.1400,0.0009),(0.1430,0.0007),(0.1470,0.0006),(0.1520,0.0011),(0.1570,0.0005),(0.1620,0.0004),(0.1700,0.0006),(0.1800,0.0004),(0.1900,0.0003),(0.2000,0.0004),(0.2100,0.0003),(0.2200,0.0005),(0.2300,0.0003),(0.2500,0.0002),(0.2530,0.0011),(0.2560,0.0002),(0.2700,0.0002),(0.3000,0.0001),(0.3250,0.0002),(0.3290,0.0007),(0.3330,0.0002),(0.3600,0.0001),(0.4000,0.0001)]
e_labels = ["0.06", "0.06", "0.07", "0.1"]

# ---------------- Panel F: x/D=0.6, y/R=0.4 ----------------
f_primary = [(0.0044,0),(0.0056,0.0073),(0.0067,0.0194),(0.0081,0.049),(0.0092,0.0448),(0.0102,0.0406),(0.0111,0.0503),(0.0122,0.0412),(0.0131,0.04),(0.0141,0.0382),(0.0150,0.0303),(0.0160,0.0303),(0.0170,0.0273),(0.0180,0.0267),(0.0189,0.023),(0.0199,0.0206),(0.0208,0.0182),(0.0218,0.0158),(0.0228,0.0158),(0.0238,0.0194),(0.0247,0.0194),(0.0257,0.0158),(0.0266,0.0164),(0.0276,0.0152),(0.0286,0.0133),(0.0296,0.0164),(0.0305,0.0158),(0.0315,0.0145),(0.0324,0.017),(0.0334,0.0121),(0.0344,0.0085),(0.0354,0.0079),(0.0363,0.0085),(0.0373,0.0085),(0.0385,0.0079),(0.0396,0.0067),(0.0408,0.0073),(0.0420,0.0067),(0.0431,0.0061),(0.0447,0.0055),(0.0462,0.0055),(0.0478,0.0052),(0.0500,0.0061),(0.0516,0.0048),(0.0540,0.0048),(0.0563,0.0045),(0.0586,0.0042),(0.0609,0.0042),(0.0632,0.0036),(0.0656,0.0033),(0.0680,0.003),(0.0702,0.003),(0.0725,0.0027),(0.0750,0.0024),(0.0772,0.003),(0.0783,0.0039),(0.0795,0.0024),(0.0818,0.0018),(0.0850,0.0015),(0.0900,0.0015),(0.0950,0.0018),(0.0975,0.0012),(0.1000,0.0012)]
f_lowswirl = [(0.0048,0),(0.0060,0.0012),(0.0071,0.0012),(0.0081,0.0158),(0.0090,0.0485),(0.0102,0.0927),(0.0111,0.0988),(0.0122,0.0636),(0.0131,0.0703),(0.0141,0.0648),(0.0150,0.0648),(0.0160,0.0521),(0.0170,0.0388),(0.0180,0.0358),(0.0189,0.0303),(0.0199,0.0285),(0.0208,0.0224),(0.0218,0.0206),(0.0228,0.0182),(0.0238,0.0152),(0.0247,0.0133),(0.0257,0.0115),(0.0266,0.0097),(0.0276,0.0067),(0.0286,0.0073),(0.0296,0.0085),(0.0305,0.0073),(0.0315,0.0061),(0.0324,0.0055),(0.0334,0.0055),(0.0344,0.0052),(0.0354,0.0055),(0.0363,0.0052),(0.0373,0.0061),(0.0380,0.0097),(0.0389,0.0073),(0.0400,0.0073),(0.0412,0.0073),(0.0423,0.0067),(0.0431,0.0073),(0.0439,0.0042),(0.0450,0.0036),(0.0460,0.003),(0.0470,0.003),(0.0478,0.0036),(0.0490,0.0024),(0.0500,0.0012),(0.0520,0.0012),(0.0550,0.0012),(0.0586,0.0015),(0.0610,0.0018),(0.0632,0.0027),(0.0650,0.0018),(0.0670,0.0006),(0.0700,0.0002),(0.0730,0.0002),(0.0760,0.0005),(0.0785,0.0012),(0.0799,0.0024),(0.0810,0.0006),(0.0850,0.0002),(0.0900,0.0002),(0.0950,0.0001),(0.1000,0.0001)]
f_highswirl = [(0.0048,0),(0.0056,0.003),(0.0064,0.0018),(0.0071,0.0036),(0.0079,0.0133),(0.0090,0.0085),(0.0100,0.0055),(0.0110,0.0158),(0.0122,0.0212),(0.0131,0.023),(0.0141,0.0133),(0.0150,0.0242),(0.0160,0.0279),(0.0170,0.0358),(0.0180,0.0291),(0.0189,0.017),(0.0199,0.0224),(0.0208,0.0158),(0.0218,0.0127),(0.0228,0.0109),(0.0238,0.0097),(0.0247,0.0121),(0.0257,0.0109),(0.0266,0.0115),(0.0276,0.0109),(0.0286,0.0097),(0.0296,0.0152),(0.0305,0.0158),(0.0315,0.0152),(0.0324,0.0158),(0.0330,0.0176),(0.0338,0.0127),(0.0346,0.0109),(0.0354,0.0097),(0.0363,0.0109),(0.0373,0.0133),(0.0382,0.017),(0.0392,0.0109),(0.0400,0.0103),(0.0410,0.0133),(0.0420,0.0091),(0.0429,0.0085),(0.0440,0.0109),(0.0450,0.0091),(0.0462,0.0085),(0.0478,0.0073),(0.0493,0.0067),(0.0509,0.0055),(0.0524,0.0061),(0.0540,0.0058),(0.0555,0.0061),(0.0570,0.0085),(0.0586,0.0055),(0.0601,0.0061),(0.0617,0.0052),(0.0632,0.0061),(0.0648,0.0045),(0.0663,0.0045),(0.0690,0.0067),(0.0710,0.0042),(0.0733,0.0039),(0.0756,0.0061),(0.0772,0.0055),(0.0799,0.0061),(0.0818,0.003),(0.0849,0.0033),(0.0880,0.003),(0.0919,0.0036),(0.0960,0.003),(0.1000,0.0027)]
f_preheated = [(0.0036,0),(0.0048,0.0036),(0.0060,0.0097),(0.0071,0.0194),(0.0081,0.0412),(0.0090,0.0521),(0.0102,0.0588),(0.0111,0.0594),(0.0122,0.0612),(0.0131,0.0473),(0.0141,0.0448),(0.0150,0.0473),(0.0160,0.0388),(0.0170,0.034),(0.0180,0.0303),(0.0189,0.0285),(0.0199,0.0242),(0.0208,0.0218),(0.0218,0.0194),(0.0228,0.0182),(0.0238,0.0176),(0.0247,0.0152),(0.0257,0.0182),(0.0266,0.0158),(0.0276,0.0139),(0.0286,0.0164),(0.0296,0.0109),(0.0305,0.0085),(0.0315,0.0055),(0.0324,0.0055),(0.0334,0.0061),(0.0344,0.0079),(0.0354,0.0079),(0.0363,0.0073),(0.0373,0.0082),(0.0385,0.0073),(0.0396,0.0061),(0.0408,0.0048),(0.0420,0.003),(0.0431,0.0034),(0.0443,0.0036),(0.0454,0.0034),(0.0470,0.003),(0.0485,0.0027),(0.0509,0.0027),(0.0532,0.0024),(0.0555,0.0024),(0.0586,0.0024),(0.0617,0.0027),(0.0648,0.003),(0.0679,0.0024),(0.0710,0.0021),(0.0741,0.0021),(0.0772,0.0018),(0.0803,0.0024),(0.0834,0.0015),(0.0865,0.0021),(0.0900,0.0012),(0.0930,0.001),(0.0960,0.0009),(0.1000,0.0009)]
f_labels = ["0.03", "0.02", "0.06", "0.03"]

# ---------------- Panel G: x/D=0.136, y/R=0.6 ----------------
g_primary = [(0.0195,0),(0.0212,0.0055),(0.0228,0.0133),(0.0239,0.0152),(0.0251,0.026),(0.0259,0.0346),(0.0267,0.028),(0.0275,0.069),(0.0282,0.042),(0.0290,0.025),(0.0298,0.0773),(0.0305,0.0637),(0.0313,0.059),(0.0321,0.068),(0.0330,0.0778),(0.0338,0.073),(0.0347,0.0686),(0.0356,0.0627),(0.0364,0.051),(0.0372,0.0375),(0.0380,0.026),(0.0388,0.027),(0.0396,0.02),(0.0403,0.0298),(0.0410,0.025),(0.0419,0.02),(0.0428,0.0162),(0.0437,0.0259),(0.0445,0.017),(0.0453,0.0104),(0.0466,0.0123),(0.0480,0.0095),(0.0491,0.0065),(0.0502,0.006),(0.0512,0.0036),(0.0523,0.0012),(0.0540,0.0007),(0.0560,0.0009),(0.0580,0.0012),(0.0592,0.0015),(0.0600,0.0)]
g_lowswirl = [(0.0240,0),(0.0251,0.0026),(0.0262,0.0016),(0.0276,0.0055),(0.0285,0.005),(0.0301,0.0186),(0.0307,0.0124),(0.0313,0.0657),(0.0321,0.0598),(0.0328,0.042),(0.0338,0.0288),(0.0347,0.023),(0.0356,0.0288),(0.0364,0.025),(0.0372,0.027),(0.0380,0.032),(0.0387,0.040),(0.0394,0.0472),(0.0402,0.032),(0.0410,0.025),(0.0417,0.035),(0.0425,0.054),(0.0431,0.0598),(0.0437,0.057),(0.0443,0.056),(0.0450,0.057),(0.0457,0.040),(0.0468,0.0269),(0.0476,0.029),(0.0487,0.0307),(0.0496,0.029),(0.0507,0.025),(0.0515,0.0191),(0.0523,0.0152),(0.0530,0.0133),(0.0543,0.0142),(0.0552,0.0114),(0.0561,0.0152),(0.0569,0.0123),(0.0577,0.0138),(0.0585,0.0094),(0.0595,0.0075),(0.0605,0.0085),(0.0620,0.0055),(0.0630,0.0065),(0.0642,0.0109),(0.0651,0.0065),(0.0662,0.0045),(0.0673,0.0036),(0.0686,0.0021),(0.0700,0.0007),(0.0730,0.0004),(0.0760,0.0005),(0.0790,0.0002),(0.0850,0.0002),(0.0930,0.0001),(0.1000,0.0002),(0.1060,0.0004),(0.1088,0.0007),(0.1120,0.0001),(0.1200,0.0)]
g_highswirl = [(0.0195,0),(0.0208,0.0312),(0.0217,0.0152),(0.0228,0.0094),(0.0236,0.0152),(0.0243,0.023),(0.0251,0.021),(0.0259,0.0293),(0.0267,0.023),(0.0275,0.0152),(0.0282,0.017),(0.0290,0.0327),(0.0298,0.054),(0.0307,0.0603),(0.0313,0.0598),(0.0321,0.0676),(0.0328,0.054),(0.0336,0.044),(0.0344,0.0366),(0.0352,0.0356),(0.0359,0.0288),(0.0367,0.0317),(0.0375,0.026),(0.0383,0.027),(0.0390,0.0211),(0.0398,0.027),(0.0406,0.0186),(0.0414,0.02),(0.0422,0.0249),(0.0429,0.0191),(0.0437,0.0172),(0.0445,0.02),(0.0453,0.0162),(0.0461,0.0152),(0.0468,0.0133),(0.0484,0.0133),(0.0500,0.0123),(0.0515,0.0113),(0.0530,0.0094),(0.0546,0.0075),(0.0561,0.0065),(0.0577,0.0055),(0.0592,0.005),(0.0608,0.0046),(0.0623,0.0065),(0.0639,0.0055),(0.0654,0.0041),(0.0668,0.0055),(0.0682,0.0075),(0.0690,0.0036),(0.0700,0.0021),(0.0720,0.0016),(0.0750,0.0012),(0.0780,0.0012),(0.0810,0.0009),(0.0840,0.0009),(0.0856,0.0036),(0.0867,0.0055),(0.0879,0.0065),(0.0895,0.0036),(0.0910,0.0031),(0.0926,0.0041),(0.0938,0.0099),(0.0949,0.0007),(0.0980,0.0005),(0.1026,0.0009),(0.1045,0.0036),(0.1057,0.0002),(0.1100,0.0)]
g_preheated = [(0.0203,0),(0.0217,0.0055),(0.0228,0.0084),(0.0236,0.0055),(0.0245,0.022),(0.0252,0.02),(0.0259,0.0191),(0.0270,0.015),(0.0279,0.02),(0.0290,0.0361),(0.0298,0.0307),(0.0305,0.0375),(0.0313,0.0307),(0.0321,0.038),(0.0329,0.0307),(0.0336,0.040),(0.0344,0.0453),(0.0352,0.0501),(0.0360,0.0495),(0.0367,0.0511),(0.0372,0.0579),(0.0378,0.0511),(0.0388,0.0327),(0.0395,0.0346),(0.0403,0.0327),(0.0411,0.0366),(0.0422,0.0346),(0.0429,0.0288),(0.0437,0.023),(0.0445,0.025),(0.0453,0.0211),(0.0461,0.023),(0.0471,0.0361),(0.0479,0.0356),(0.0487,0.0268),(0.0496,0.0191),(0.0504,0.0133),(0.0512,0.0142),(0.0519,0.0133),(0.0527,0.0138),(0.0535,0.0123),(0.0543,0.0133),(0.0552,0.0104),(0.0561,0.0094),(0.0569,0.0113),(0.0577,0.0084),(0.0585,0.0099),(0.0592,0.0075),(0.0600,0.006),(0.0611,0.0055),(0.0623,0.0046),(0.0639,0.0055),(0.0654,0.0041),(0.0670,0.0031),(0.0685,0.0016),(0.0700,0.0012),(0.0730,0.0012),(0.0760,0.0009),(0.0790,0.0012),(0.0820,0.0007),(0.0850,0.0009),(0.0880,0.0007),(0.0920,0.0004),(0.0960,0.0004),(0.1020,0.0002),(0.1080,0.0001),(0.1150,0.0001),(0.1180,0.0008),(0.1200,0.0002),(0.1300,0.0),(0.1400,0.0),(0.1630,0.0001),(0.1650,0.0)]
g_labels = ["0.03", "0.04", "0.04", "0.04"]

# ---------------- Panel H: x/D=0.6, y/R=0.6 ----------------
h_primary = [(0.0,0),(0.0022,0),(0.0030,0.0081),(0.0040,0.0101),(0.0051,0.052),(0.0061,0.0983),(0.0070,0.1038),(0.0081,0.1484),(0.0091,0.1138),(0.0101,0.0974),(0.0110,0.0948),(0.0120,0.0586),(0.0130,0.0314),(0.0140,0.0275),(0.0150,0.0134),(0.0159,0.0118),(0.0169,0.0118),(0.0179,0.011),(0.0190,0.0081),(0.0200,0.0095),(0.0212,0.0087),(0.0221,0.0081),(0.0231,0.0068),(0.0241,0.0052),(0.0250,0.0048),(0.0260,0.0046),(0.0270,0.0043),(0.0279,0.0037),(0.0289,0.0037),(0.0299,0.0023),(0.0308,0.0019),(0.0320,0.0017),(0.0332,0.0016),(0.0350,0.0014),(0.0370,0.001),(0.0390,0.0008),(0.0410,0.0008),(0.0430,0.001),(0.0450,0.0008),(0.0470,0.0008),(0.0490,0.0008),(0.0500,0.001)]
h_lowswirl = [(0.0,0),(0.0040,0),(0.0051,0.0072),(0.0061,0.0149),(0.0070,0.0363),(0.0080,0.0751),(0.0091,0.1061),(0.0101,0.1134),(0.0110,0.1003),(0.0120,0.1288),(0.0130,0.0774),(0.0140,0.0882),(0.0150,0.0731),(0.0159,0.0518),(0.0169,0.0285),(0.0179,0.0159),(0.0190,0.012),(0.0200,0.0095),(0.0212,0.0076),(0.0221,0.0072),(0.0231,0.0056),(0.0241,0.0037),(0.0250,0.0066),(0.0260,0.0033),(0.0270,0.0023),(0.0279,0.0027),(0.0289,0.0023),(0.0299,0.0014),(0.0312,0.001),(0.0330,0.001),(0.0350,0.0008),(0.0370,0.0004),(0.0390,0.0004),(0.0410,0.0004),(0.0430,0.0002),(0.0450,0.0002),(0.0470,0.0002),(0.0500,0.0002)]
h_highswirl = [(0.0,0),(0.0022,0),(0.0030,0.0043),(0.0040,0.0479),(0.0050,0.0789),(0.0061,0.0987),(0.0070,0.0944),(0.0081,0.0712),(0.0091,0.0495),(0.0101,0.0444),(0.0110,0.046),(0.0120,0.0343),(0.0130,0.0227),(0.0140,0.0231),(0.0150,0.0281),(0.0159,0.0208),(0.0169,0.0231),(0.0179,0.0159),(0.0190,0.0153),(0.0200,0.0101),(0.0212,0.0101),(0.0221,0.0101),(0.0231,0.0149),(0.0241,0.0131),(0.0250,0.0105),(0.0260,0.011),(0.0270,0.0149),(0.0279,0.0173),(0.0289,0.0076),(0.0299,0.0056),(0.0308,0.0052),(0.0320,0.0052),(0.0332,0.0056),(0.0341,0.006),(0.0351,0.0068),(0.0360,0.0087),(0.0370,0.0068),(0.0380,0.0072),(0.0390,0.0076),(0.0400,0.0095),(0.0409,0.0076),(0.0419,0.0078),(0.0428,0.0068),(0.0438,0.0056),(0.0448,0.0052),(0.0459,0.0029),(0.0469,0.0033),(0.0479,0.0014),(0.0486,0.0017),(0.0500,0.0023)]
h_preheated = [(0.0,0),(0.0014,0),(0.0022,0.0004),(0.0031,0.0091),(0.0041,0.0324),(0.0050,0.0353),(0.0061,0.0586),(0.0070,0.0838),(0.0081,0.0925),(0.0091,0.0987),(0.0101,0.1045),(0.0110,0.108),(0.0120,0.0789),(0.0130,0.0576),(0.0140,0.0359),(0.0150,0.0285),(0.0159,0.0285),(0.0169,0.0227),(0.0179,0.0153),(0.0190,0.012),(0.0200,0.013),(0.0212,0.0095),(0.0221,0.0087),(0.0231,0.0072),(0.0241,0.0043),(0.0250,0.0037),(0.0260,0.0023),(0.0270,0.0027),(0.0280,0.0023),(0.0289,0.0017),(0.0299,0.0017),(0.0315,0.0017),(0.0332,0.0014),(0.0351,0.0023),(0.0370,0.0014),(0.0385,0.001),(0.0400,0.0017),(0.0420,0.001),(0.0440,0.0008),(0.0460,0.0008),(0.0480,0.0008),(0.0500,0.0008)]
h_labels = ["0.01", "0.01", "0.02", "0.01"]

# ---------------- axes: ticks ----------------
xt_01 = [0, 0.25, 0.5, 0.75, 1.0];        xtt_01 = ["0", "0.25", "0.5", "0.75", "1"]
xt_04 = [0, 0.1, 0.2, 0.3, 0.4];          xtt_04 = ["0", "0.1", "0.2", "0.3", "0.4"]
xt_02 = [0, 0.05, 0.1, 0.15, 0.2];        xtt_02 = ["0", "0.05", "0.1", "0.15", "0.2"]
xt_01b = [0, 0.025, 0.05, 0.075, 0.1];    xtt_01b = ["0", "0.025", "0.05", "0.075", "0.1"]
xt_005 = [0, 0.0125, 0.025, 0.0375, 0.05]; xtt_005 = ["0", "0.0125", "0.025", "0.0375", "0.05"]

yt_a = [0, 0.002, 0.004, 0.006, 0.008];   ytt_a = ["0", "0.002", "0.004", "0.006", "0.008"]
yt_b = [0, 0.01, 0.02, 0.03, 0.04];       ytt_b = ["0", "0.01", "0.02", "0.03", "0.04"]
yt_c = [0, 0.005, 0.01, 0.015, 0.02];     ytt_c = ["0", "0.005", "0.01", "0.015", "0.02"]
yt_d = [0, 0.015, 0.03, 0.045, 0.06];     ytt_d = ["0", "0.015", "0.03", "0.045", "0.06"]
yt_f = [0, 0.02, 0.04, 0.06, 0.08, 0.1];  ytt_f = ["0", "0.02", "0.04", "0.06", "0.08", "0.1"]
yt_g = [0, 0.02, 0.04, 0.06, 0.08];       ytt_g = ["0", "0.02", "0.04", "0.06", "0.08"]
yt_h = [0, 0.04, 0.08, 0.12, 0.16];       ytt_h = ["0", "0.04", "0.08", "0.12", "0.16"]

col_titles = ["x/D = 0.136", "x/D = 0.6"]
row_titles = ["PDF (y/R = 0)", "PDF (y/R = 0.2)", "PDF (y/R = 0.4)", "PDF (y/R = 0.6)"]
xlabel = "Mixture fraction"

# panel spec: (series, y unit, labels, xticks, xtext, xminor step, yticks, ytext, yminor step, row, col)
panels = [
    ([a_primary, a_lowswirl, a_highswirl, a_preheated], UNIT_A, a_labels, xt_01, xtt_01, 0.05, yt_a, ytt_a, 0.0004, 0, 0),
    ([b_primary, b_lowswirl, b_highswirl, b_preheated], 1.0, b_labels, xt_04, xtt_04, 0.02, yt_b, ytt_b, 0.002, 0, 1),
    ([c_primary, c_lowswirl, c_highswirl, c_preheated], UNIT_C, c_labels, xt_01, xtt_01, 0.05, yt_c, ytt_c, 0.001, 1, 0),
    ([d_primary, d_lowswirl, d_highswirl, d_preheated], 1.0, d_labels, xt_02, xtt_02, 0.01, yt_d, ytt_d, 0.003, 1, 1),
    ([e_primary, e_lowswirl, e_highswirl, e_preheated], 1.0, e_labels, xt_04, xtt_04, 0.02, yt_d, ytt_d, 0.003, 2, 0),
    ([f_primary, f_lowswirl, f_highswirl, f_preheated], 1.0, f_labels, xt_01b, xtt_01b, 0.005, yt_f, ytt_f, 0.004, 2, 1),
    ([g_primary, g_lowswirl, g_highswirl, g_preheated], 1.0, g_labels, xt_02, xtt_02, 0.01, yt_g, ytt_g, 0.004, 3, 0),
    ([h_primary, h_lowswirl, h_highswirl, h_preheated], 1.0, h_labels, xt_005, xtt_005, 0.0025, yt_h, ytt_h, 0.008, 3, 1),
]

# layout geometry in pixels
COL_X = [(113, 543), (615, 1045)]
COL_TITLE_X = [323, 836]
ROW_Y = [(53, 328), (361, 636), (669, 944), (977, 1252)]
LEG_DX = 197
LEG_DY = [23, 55.5, 88, 120.5]
ROWTITLE_Y = [185, 482, 790, 1097]

def minor_vals(vmax, step):
    n = int(round(vmax / step))
    return [round(i * step, 10) for i in range(n + 1)]

fig = go.Figure()
layout = dict(
    width=W, height=H, margin=dict(l=0, r=0, t=0, b=0, autoexpand=False),
    paper_bgcolor="white", plot_bgcolor="white", showlegend=False,
    font=dict(family=FONT, size=24, color="black"),
)
annotations = []
tickfont = dict(family=FONT, size=24, color="black")

for i, (series, unit, labels, xt, xtt, xms, yt, ytt, yms, r, c) in enumerate(panels):
    n = i + 1
    xname = "xaxis" if n == 1 else f"xaxis{n}"
    yname = "yaxis" if n == 1 else f"yaxis{n}"
    xref = "x" if n == 1 else f"x{n}"
    yref = "y" if n == 1 else f"y{n}"
    x0, x1 = COL_X[c]
    top, bot = ROW_Y[r]
    for s, pts, col in zip(SERIES, series, COLORS):
        xs = [p[0] for p in pts]
        ys = [p[1] * unit for p in pts]
        fig.add_trace(go.Scatter(x=xs, y=ys, mode="lines", name=s,
                                 line=dict(color=col, width=1.3),
                                 xaxis=xref, yaxis=yref, hoverinfo="skip"))
    common = dict(showline=True, linecolor="black", linewidth=1.6, mirror=True,
                  showgrid=False, zeroline=False, ticks="inside", ticklen=7,
                  tickwidth=1.2, tickcolor="black", tickfont=tickfont,
                  tickmode="array", fixedrange=True, automargin=False)
    layout[xname] = dict(common, domain=[x0 / W, x1 / W], range=[xt[0], xt[-1]],
                         anchor=yref, tickvals=xt, ticktext=xtt, ticklabelstandoff=-7,
                         minor=dict(tickmode="array", tickvals=minor_vals(xt[-1], xms),
                                    ticks="inside", ticklen=4, tickwidth=1, tickcolor="black"))
    layout[yname] = dict(common, domain=[1 - bot / H, 1 - top / H], range=[yt[0], yt[-1]],
                         anchor=xref, tickvals=yt, ticktext=ytt,
                         minor=dict(tickmode="array", tickvals=minor_vals(yt[-1], yms),
                                    ticks="inside", ticklen=4, tickwidth=1, tickcolor="black"))
    for k, (s, lab, col) in enumerate(zip(SERIES, labels, COLORS)):
        annotations.append(dict(text=f"{s}={lab}", xref="paper", yref="paper",
                                x=(x0 + LEG_DX - 2) / W, y=1 - (top + LEG_DY[k] - 1) / H,
                                xanchor="left", yanchor="middle", showarrow=False,
                                font=dict(family=FONT, size=24, color=col)))

for c, t in enumerate(col_titles):
    cx = COL_TITLE_X[c]
    annotations.append(dict(text=t, xref="paper", yref="paper", x=cx / W, y=1 - 20 / H,
                            xanchor="center", yanchor="middle", showarrow=False,
                            font=dict(family=FONT, size=25, color="black")))
    annotations.append(dict(text=xlabel, xref="paper", yref="paper", x=cx / W, y=1 - 1303 / H,
                            xanchor="center", yanchor="middle", showarrow=False,
                            font=dict(family=FONT, size=24.5, color="black")))
for r, t in enumerate(row_titles):
    annotations.append(dict(text=t, xref="paper", yref="paper", x=24 / W, y=1 - ROWTITLE_Y[r] / H,
                            xanchor="center", yanchor="middle", textangle=-90, showarrow=False,
                            font=dict(family=FONT, size=24, color="black")))

layout["annotations"] = annotations
fig.update_layout(**layout)
fig.write_html(
    "out.html",
    post_script="document.body.style.margin='0';document.body.style.padding='0';"
                "document.documentElement.style.overflow='hidden';",
)
